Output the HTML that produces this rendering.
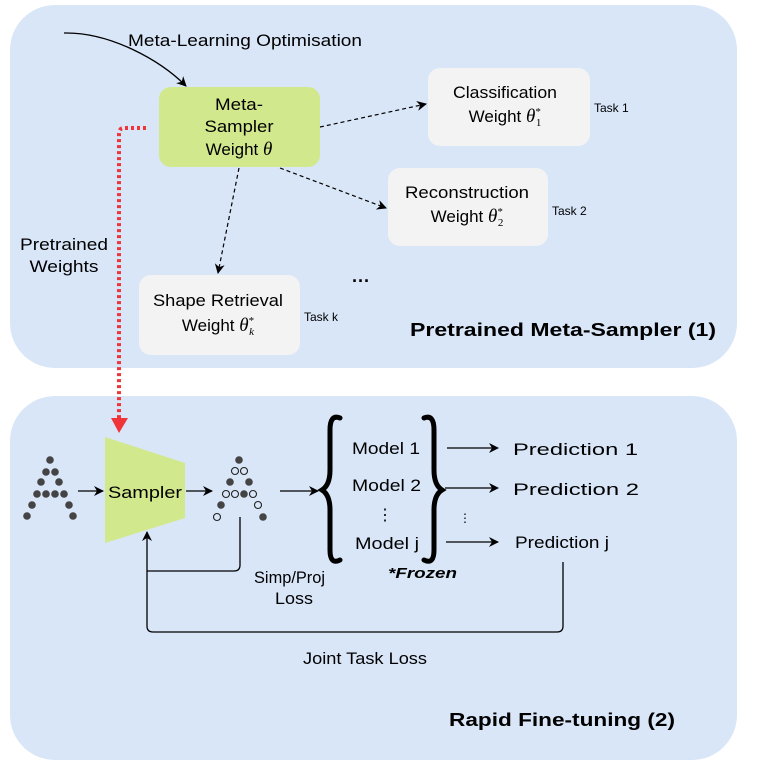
<!DOCTYPE html>
<html><head><style>body{margin:0;background:#fff}svg{display:block}</style></head><body>
<svg width="760" height="774" viewBox="0 0 760 774" xmlns="http://www.w3.org/2000/svg" font-family="Liberation Sans, sans-serif">
<defs>
<marker id="a" markerWidth="10" markerHeight="10" refX="9" refY="5" orient="auto" markerUnits="userSpaceOnUse"><path d="M0,0 L10,5 L0,10 L3,5Z" fill="#000"/></marker>
</defs>
<rect x="10" y="5" width="727" height="363" rx="45" fill="#d9e6f8"/>
<rect x="10" y="396" width="727" height="364" rx="45" fill="#d9e6f8"/>
<!-- top -->
<path d="M64,33 C110,32 160,60 186,86" fill="none" stroke="#000" stroke-width="1.3" marker-end="url(#a)"/>
<text x="128" y="46" font-size="17" textLength="234" lengthAdjust="spacingAndGlyphs">Meta-Learning Optimisation</text>
<rect x="159" y="87" width="161" height="80" rx="12" fill="#d2e88c"/>
<g text-anchor="middle" font-size="17">
<text x="239" y="110" textLength="48" lengthAdjust="spacingAndGlyphs">Meta-</text>
<text x="239" y="132" textLength="69" lengthAdjust="spacingAndGlyphs">Sampler</text>
<text x="239" y="155">Weight <tspan font-style="italic" font-family="Liberation Serif, serif" font-size="19">θ</tspan></text>
</g>
<rect x="428" y="68" width="162" height="78" rx="12" fill="#f3f3f3"/>
<text x="505" y="98" text-anchor="middle" font-size="17" textLength="104" lengthAdjust="spacingAndGlyphs">Classification</text>
<text x="505" y="122" text-anchor="middle" font-size="17">Weight  <tspan font-style="italic" font-family="Liberation Serif, serif" font-size="19">θ</tspan><tspan font-size="11" dy="-7" font-family="Liberation Serif, serif">*</tspan><tspan font-size="11" dx="-5" dy="11" font-family="Liberation Serif, serif">1</tspan></text>
<text x="594" y="112" font-size="12">Task 1</text>
<rect x="388" y="168" width="160" height="78" rx="12" fill="#f3f3f3"/>
<text x="467" y="198" text-anchor="middle" font-size="17" textLength="124" lengthAdjust="spacingAndGlyphs">Reconstruction</text>
<text x="467" y="222" text-anchor="middle" font-size="17">Weight <tspan font-style="italic" font-family="Liberation Serif, serif" font-size="19">θ</tspan><tspan font-size="11" dy="-7" font-family="Liberation Serif, serif">*</tspan><tspan font-size="11" dx="-5" dy="11" font-family="Liberation Serif, serif">2</tspan></text>
<text x="552" y="215" font-size="12">Task 2</text>
<rect x="139" y="275" width="161" height="80" rx="12" fill="#f3f3f3"/>
<text x="218" y="306" text-anchor="middle" font-size="17" textLength="130" lengthAdjust="spacingAndGlyphs">Shape Retrieval</text>
<text x="218" y="331" text-anchor="middle" font-size="17">Weight <tspan font-style="italic" font-family="Liberation Serif, serif" font-size="19">θ</tspan><tspan font-size="11" dy="-7" font-family="Liberation Serif, serif">*</tspan><tspan font-size="11" dx="-5" dy="11" font-family="Liberation Serif, serif" font-style="italic">k</tspan></text>
<text x="304" y="321" font-size="12">Task k</text>
<text x="352" y="287" font-size="18" font-weight="bold">···</text>
<g stroke="#000" stroke-width="1.2" stroke-dasharray="4,3" fill="none">
<path d="M320,127 L426,104" marker-end="url(#a)"/>
<path d="M280,168 L386,208" marker-end="url(#a)"/>
<path d="M239,168 L218,273" marker-end="url(#a)"/>
</g>
<text x="64" y="250" text-anchor="middle" font-size="17" textLength="88" lengthAdjust="spacingAndGlyphs">Pretrained</text>
<text x="64" y="272" text-anchor="middle" font-size="17" textLength="69" lengthAdjust="spacingAndGlyphs">Weights</text>
<text x="410" y="336" font-size="18" font-weight="bold" textLength="306" lengthAdjust="spacingAndGlyphs">Pretrained Meta-Sampler (1)</text>
<!-- red dotted -->
<path d="M146,128 L124,128 Q119,128 119,134 L119,418" fill="none" stroke="#f0353a" stroke-width="4" stroke-dasharray="3,3"/>
<path d="M111,418 L128,418 L119,433Z" fill="#f0353a"/>
<!-- bottom -->
<polygon points="105,437 185,463 185,518 105,543" fill="#d2e88c"/>
<text x="145" y="498" text-anchor="middle" font-size="17" textLength="74" lengthAdjust="spacingAndGlyphs">Sampler</text>
<g fill="#444">
<circle cx="50" cy="460" r="3.8"/><circle cx="46" cy="472" r="3.8"/><circle cx="55" cy="472" r="3.8"/>
<circle cx="41" cy="482" r="3.8"/><circle cx="59" cy="482" r="3.8"/>
<circle cx="37" cy="494" r="3.8"/><circle cx="46" cy="494" r="3.8"/><circle cx="55" cy="494" r="3.8"/><circle cx="64" cy="494" r="3.8"/>
<circle cx="32" cy="505" r="3.8"/><circle cx="69" cy="505" r="3.8"/><circle cx="27" cy="516" r="3.8"/><circle cx="73" cy="516" r="3.8"/>
<circle cx="239" cy="460" r="3.8"/><circle cx="230" cy="482" r="3.8"/><circle cx="249" cy="482" r="3.8"/>
<circle cx="244" cy="494" r="3.8"/><circle cx="221" cy="505" r="3.8"/><circle cx="263" cy="517" r="3.8"/>
</g>
<g fill="none" stroke="#222" stroke-width="1.1">
<circle cx="235" cy="471" r="3.5"/><circle cx="244" cy="471" r="3.5"/><circle cx="226" cy="494" r="3.5"/><circle cx="235" cy="494" r="3.5"/><circle cx="253" cy="494" r="3.5"/><circle cx="258" cy="505" r="3.5"/><circle cx="217" cy="517" r="3.5"/>
</g>
<g stroke="#000" stroke-width="1.3" fill="none">
<path d="M78,491 L103,491" marker-end="url(#a)"/>
<path d="M186,491 L212,491" marker-end="url(#a)"/>
<path d="M280,491 L318,491" marker-end="url(#a)"/>
<path d="M447,448 L498,448" marker-end="url(#a)"/>
<path d="M445,488 L498,488" marker-end="url(#a)"/>
<path d="M446,542 L498,542" marker-end="url(#a)"/>
<path d="M240,517 L240,565 Q240,571 234,571 L147,571"/>
<path d="M563,562 L563,626 Q563,632 557,632 L153,632 Q147,632 147,626 L147,532" marker-end="url(#a)"/>
</g>
<!-- braces -->
<path d="M340,418 Q330,414 330,430 L330,470 Q330,485 322,490 Q330,495 330,510 L330,550 Q330,565 340,560" fill="none" stroke="#000" stroke-width="5" stroke-linecap="round"/>
<path d="M424,418 Q434,414 434,430 L434,470 Q434,485 442,490 Q434,495 434,510 L434,550 Q434,565 424,560" fill="none" stroke="#000" stroke-width="5" stroke-linecap="round"/>
<g font-size="17">
<text x="352" y="454" textLength="68" lengthAdjust="spacingAndGlyphs">Model 1</text>
<text x="352" y="491" textLength="69" lengthAdjust="spacingAndGlyphs">Model 2</text>
<text x="385" y="520" text-anchor="middle" font-size="16">⋮</text>
<text x="355" y="549" textLength="64" lengthAdjust="spacingAndGlyphs">Model j</text>
<text x="513" y="455" textLength="125" lengthAdjust="spacingAndGlyphs">Prediction 1</text>
<text x="513" y="495" textLength="126" lengthAdjust="spacingAndGlyphs">Prediction 2</text>
<text x="515" y="548" textLength="94" lengthAdjust="spacingAndGlyphs">Prediction j</text>
<text x="254" y="583" textLength="71" lengthAdjust="spacingAndGlyphs">Simp/Proj</text>
<text x="275" y="604" textLength="38" lengthAdjust="spacingAndGlyphs">Loss</text>
<text x="303" y="664" textLength="124" lengthAdjust="spacingAndGlyphs">Joint Task Loss</text>
</g>
<text x="465" y="522" font-size="12" text-anchor="middle">⋮</text>
<text x="388" y="578" font-size="15" font-weight="bold" font-style="italic" textLength="69" lengthAdjust="spacingAndGlyphs">*Frozen</text>
<text x="449" y="726" font-size="18" font-weight="bold" textLength="226" lengthAdjust="spacingAndGlyphs">Rapid Fine-tuning (2)</text>
</svg>
</body></html>
